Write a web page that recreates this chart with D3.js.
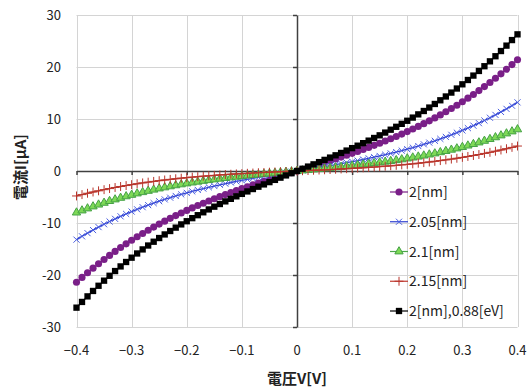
<!DOCTYPE html>
<html>
<head>
<meta charset="utf-8">
<script src="https://cdn.jsdelivr.net/npm/d3@7"></script>
<style>
  body { margin: 0; background: #fff; }
  text { font-family: "Noto Sans CJK JP", "Noto Sans", sans-serif; }
</style>
</head>
<body>
<div id="chart"></div>
<script>
// voltage steps [V]
const voltage = [
  -0.40, -0.39, -0.38, -0.37, -0.36, -0.35, -0.34, -0.33, -0.32, -0.31,
  -0.30, -0.29, -0.28, -0.27, -0.26, -0.25, -0.24, -0.23, -0.22, -0.21,
  -0.20, -0.19, -0.18, -0.17, -0.16, -0.15, -0.14, -0.13, -0.12, -0.11,
  -0.10, -0.09, -0.08, -0.07, -0.06, -0.05, -0.04, -0.03, -0.02, -0.01,
  0.00,
  0.01, 0.02, 0.03, 0.04, 0.05, 0.06, 0.07, 0.08, 0.09, 0.10,
  0.11, 0.12, 0.13, 0.14, 0.15, 0.16, 0.17, 0.18, 0.19, 0.20,
  0.21, 0.22, 0.23, 0.24, 0.25, 0.26, 0.27, 0.28, 0.29, 0.30,
  0.31, 0.32, 0.33, 0.34, 0.35, 0.36, 0.37, 0.38, 0.39, 0.40
];

// current [uA], one array per barrier width
const current2nm = [
  -21.40, -20.46, -19.56, -18.68, -17.84, -17.02, -16.23, -15.46, -14.72, -14.01,
  -13.32, -12.65, -12.01, -11.39, -10.79, -10.21, -9.65, -9.10, -8.58, -8.07,
  -7.58, -7.10, -6.64, -6.20, -5.76, -5.34, -4.93, -4.54, -4.15, -3.77,
  -3.40, -3.04, -2.68, -2.33, -1.99, -1.65, -1.32, -0.98, -0.66, -0.33,
  0,
  0.33, 0.66, 0.98, 1.32, 1.65, 1.99, 2.33, 2.68, 3.04, 3.40,
  3.77, 4.15, 4.54, 4.93, 5.34, 5.76, 6.20, 6.64, 7.10, 7.58,
  8.07, 8.58, 9.10, 9.65, 10.21, 10.79, 11.39, 12.01, 12.65, 13.32,
  14.01, 14.72, 15.46, 16.23, 17.02, 17.84, 18.68, 19.56, 20.46, 21.40
];
const current205nm = [
  -13.20, -12.56, -11.95, -11.36, -10.79, -10.24, -9.71, -9.20, -8.72, -8.25,
  -7.80, -7.37, -6.96, -6.56, -6.18, -5.81, -5.46, -5.13, -4.80, -4.50,
  -4.20, -3.92, -3.64, -3.38, -3.13, -2.89, -2.65, -2.43, -2.21, -2.00,
  -1.80, -1.60, -1.41, -1.22, -1.04, -0.86, -0.69, -0.51, -0.34, -0.17,
  0,
  0.17, 0.34, 0.51, 0.69, 0.86, 1.04, 1.22, 1.41, 1.60, 1.80,
  2.00, 2.21, 2.43, 2.65, 2.89, 3.13, 3.38, 3.64, 3.92, 4.20,
  4.50, 4.80, 5.13, 5.46, 5.81, 6.18, 6.56, 6.96, 7.37, 7.80,
  8.25, 8.72, 9.20, 9.71, 10.24, 10.79, 11.36, 11.95, 12.56, 13.20
];
const current21nm = [
  -8.00, -7.60, -7.21, -6.83, -6.47, -6.13, -5.79, -5.48, -5.17, -4.88,
  -4.60, -4.33, -4.08, -3.83, -3.60, -3.37, -3.16, -2.96, -2.76, -2.58,
  -2.40, -2.23, -2.07, -1.91, -1.77, -1.63, -1.49, -1.36, -1.24, -1.12,
  -1.00, -0.89, -0.78, -0.68, -0.57, -0.48, -0.38, -0.28, -0.19, -0.09,
  0,
  0.09, 0.19, 0.28, 0.38, 0.48, 0.57, 0.68, 0.78, 0.89, 1.00,
  1.12, 1.24, 1.36, 1.49, 1.63, 1.77, 1.91, 2.07, 2.23, 2.40,
  2.58, 2.76, 2.96, 3.16, 3.37, 3.60, 3.83, 4.08, 4.33, 4.60,
  4.88, 5.17, 5.48, 5.79, 6.13, 6.47, 6.83, 7.21, 7.60, 8.00
];
const current215nm = [
  -4.80, -4.54, -4.28, -4.04, -3.81, -3.59, -3.38, -3.17, -2.98, -2.80,
  -2.62, -2.45, -2.29, -2.14, -2.00, -1.86, -1.73, -1.61, -1.49, -1.38,
  -1.28, -1.18, -1.09, -1.00, -0.92, -0.84, -0.76, -0.69, -0.62, -0.56,
  -0.50, -0.44, -0.39, -0.33, -0.28, -0.23, -0.18, -0.14, -0.09, -0.05,
  0,
  0.05, 0.09, 0.14, 0.18, 0.23, 0.28, 0.33, 0.39, 0.44, 0.50,
  0.56, 0.62, 0.69, 0.76, 0.84, 0.92, 1.00, 1.09, 1.18, 1.28,
  1.38, 1.49, 1.61, 1.73, 1.86, 2.00, 2.14, 2.29, 2.45, 2.62,
  2.80, 2.98, 3.17, 3.38, 3.59, 3.81, 4.04, 4.28, 4.54, 4.80
];
const current2nm088eV = [
  -26.28, -25.18, -24.11, -23.07, -22.07, -21.09, -20.15, -19.24, -18.35, -17.50,
  -16.67, -15.86, -15.08, -14.33, -13.60, -12.89, -12.20, -11.54, -10.89, -10.27,
  -9.66, -9.07, -8.50, -7.94, -7.39, -6.86, -6.35, -5.84, -5.35, -4.87,
  -4.40, -3.93, -3.47, -3.02, -2.58, -2.14, -1.71, -1.28, -0.85, -0.43,
  0,
  0.43, 0.85, 1.28, 1.71, 2.14, 2.58, 3.02, 3.47, 3.93, 4.40,
  4.87, 5.35, 5.84, 6.35, 6.86, 7.39, 7.94, 8.50, 9.07, 9.66,
  10.27, 10.89, 11.54, 12.20, 12.89, 13.60, 14.33, 15.08, 15.86, 16.67,
  17.50, 18.35, 19.24, 20.15, 21.09, 22.07, 23.07, 24.11, 25.18, 26.28
];

const seriesNames = ['2[nm]', '2.05[nm]', '2.1[nm]', '2.15[nm]', '2[nm],0.88[eV]'];
const xTicks = [-0.4, -0.3, -0.2, -0.1, 0, 0.1, 0.2, 0.3, 0.4];
const xTickLabels = ['\u22120.4', '\u22120.3', '\u22120.2', '\u22120.1', '0', '0.1', '0.2', '0.3', '0.4'];
const yTicks = [-30, -20, -10, 0, 10, 20, 30];
const yTickLabels = ['-30', '-20', '-10', '0', '10', '20', '30'];

// Styles per series (drawing order = Excel order, black on top)
const styles = [
  { values: current2nm, line: '#7a1f88', fill: '#7a1f88', stroke: 'none', symbol: d3.symbolCircle, size: 40 },
  { values: current205nm, line: '#2f3fcf', fill: 'none', stroke: '#4a5ee0', symbol: d3.symbolTimes, size: 26 },
  { values: current21nm, line: '#4da84a', fill: '#7ed957', stroke: '#46a246', symbol: d3.symbolTriangle, size: 30 },
  { values: current215nm, line: '#c0392f', fill: 'none', stroke: '#b8352c', symbol: d3.symbolPlus, size: 28 },
  { values: current2nm088eV, line: '#000', fill: '#000', stroke: 'none', symbol: d3.symbolSquare, size: 40 }
];

const width = 530, height = 387;
const svg = d3.select('#chart').append('svg')
  .attr('width', width)
  .attr('height', height);

const x = d3.scaleLinear().domain([-0.4, 0.4]).range([76.5, 517.5]);
const y = d3.scaleLinear().domain([-30, 30]).range([327, 15]);

// gridlines
svg.append('g').selectAll('line').data(xTicks).join('line')
  .attr('x1', d => Math.round(x(d)) + 0.5).attr('x2', d => Math.round(x(d)) + 0.5)
  .attr('y1', y(30)).attr('y2', y(-30))
  .attr('stroke', '#d4d4d4').attr('stroke-width', 1);
svg.append('g').selectAll('line').data(yTicks).join('line')
  .attr('y1', d => Math.round(y(d)) + 0.5).attr('y2', d => Math.round(y(d)) + 0.5)
  .attr('x1', x(-0.4)).attr('x2', x(0.4))
  .attr('stroke', '#d4d4d4').attr('stroke-width', 1);

// axes through the origin
const xAxis = svg.append('g')
  .attr('transform', `translate(0,${y(0)})`)
  .call(d3.axisBottom(x).tickValues(xTicks).tickSize(4).tickSizeOuter(0).tickFormat(''));
const yAxis = svg.append('g')
  .attr('transform', `translate(${x(0)},0)`)
  .call(d3.axisLeft(y).tickValues(yTicks).tickSize(4).tickSizeOuter(0).tickFormat(''));
[xAxis, yAxis].forEach(a => {
  a.selectAll('path, line').attr('stroke', '#404040').attr('stroke-width', 1.5);
});

// tick labels
svg.append('g').selectAll('text').data(xTicks).join('text')
  .attr('x', d => x(d))
  .attr('y', 355)
  .attr('text-anchor', 'middle')
  .attr('font-size', 13)
  .attr('fill', '#222')
  .text((d, i) => xTickLabels[i]);
svg.append('g').selectAll('text').data(yTicks).join('text')
  .attr('x', 61)
  .attr('y', d => y(d) + 5)
  .attr('text-anchor', 'end')
  .attr('font-size', 13)
  .attr('fill', '#222')
  .text((d, i) => yTickLabels[i]);

// axis titles
svg.append('text')
  .attr('x', x(0))
  .attr('y', 384)
  .attr('text-anchor', 'middle')
  .attr('font-size', 15)
  .attr('font-weight', 'bold')
  .attr('fill', '#222')
  .text('電圧V[V]');
svg.append('text')
  .attr('transform', `translate(26,${y(0) - 4}) rotate(-90)`)
  .attr('text-anchor', 'middle')
  .attr('font-size', 15)
  .attr('font-weight', 'bold')
  .attr('fill', '#222')
  .text('電流I[μA]');

// series
const line = d3.line().x((d, i) => x(voltage[i])).y(d => y(d));
styles.forEach(s => {
  const g = svg.append('g');
  g.append('path')
    .datum(s.values)
    .attr('d', line)
    .attr('fill', 'none')
    .attr('stroke', s.line)
    .attr('stroke-width', 1.3);
  g.selectAll('path.mark').data(s.values).join('path')
    .attr('class', 'mark')
    .attr('transform', (d, i) => `translate(${x(voltage[i])},${y(d)})`)
    .attr('d', d3.symbol().type(s.symbol).size(s.size))
    .attr('fill', s.fill)
    .attr('stroke', s.stroke)
    .attr('stroke-width', 1);
});

// legend
const legendY = d3.scalePoint().domain(seriesNames).range([192, 311]);
const legend = svg.append('g');
seriesNames.forEach((name, i) => {
  const s = styles[i];
  const ly = legendY(name);
  legend.append('line')
    .attr('x1', 390).attr('x2', 408)
    .attr('y1', ly).attr('y2', ly)
    .attr('stroke', s.line).attr('stroke-width', 1.2);
  legend.append('path')
    .attr('transform', `translate(399,${ly})`)
    .attr('d', d3.symbol().type(s.symbol).size(s.size))
    .attr('fill', s.fill)
    .attr('stroke', s.stroke)
    .attr('stroke-width', 1);
  legend.append('text')
    .attr('x', 409)
    .attr('y', ly + 5)
    .attr('font-size', 14)
    .attr('fill', '#222')
    .text(name);
});
</script>
</body>
</html>
